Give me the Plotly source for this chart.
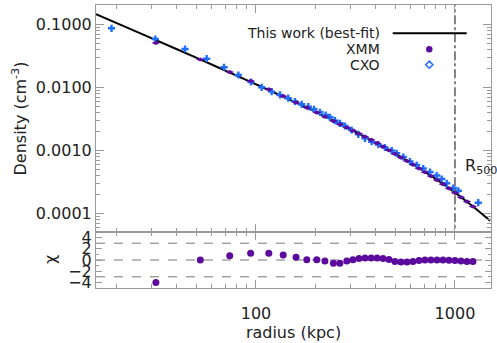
import plotly.graph_objects as go

# ---------------- data ----------------
fit_r = [15.7, 27.7, 52.4, 93.3, 122, 180, 264, 388, 571, 841, 1145, 1500]
fit_n = [0.1442, 0.0667, 0.02767, 0.01233, 0.00838, 0.00474, 0.002624,
         0.001390, 0.000690, 0.000315, 0.0001538, 0.0000764]

xmm_r = [31.4, 52.5, 73.8, 94.0, 116, 137, 159, 180, 202, 222, 245, 264, 286,
         307, 329, 353, 379, 406, 435, 466, 499, 535, 574, 615, 659, 706, 757,
         812, 870, 933, 1000, 1072, 1149, 1231]
xmm_n = [0.0505, 0.0276, 0.01742, 0.01259, 0.00929, 0.00723, 0.00575, 0.00474,
         0.00397, 0.003404, 0.002911, 0.002582, 0.002296, 0.002051, 0.001837,
         0.001641, 0.001466, 0.001297, 0.001140, 0.000998, 0.000877, 0.000767,
         0.000676, 0.000590, 0.000516, 0.000449, 0.000390, 0.000337, 0.000290,
         0.000248, 0.000211, 0.0001792, 0.0001534, 0.0001282]
xmm_chi = [-4.0, 0.0, 0.76, 1.2, 1.2, 0.9, 0.5, 0.05, 0.05, -0.2, -0.6, -0.6,
           -0.2, 0.05, 0.25, 0.35, 0.35, 0.35, 0.25, 0.1, -0.25, -0.35, -0.35,
           -0.25, -0.1, 0.0, 0.0, 0.0, 0.0, -0.05, -0.1, -0.2, -0.25, -0.25]

cxo_r = [18.8, 31.2, 44.0, 56.5, 69.1, 81.5, 94.4, 106.8, 119.9, 132.0, 145.3,
         157.0, 169.7, 183.2, 195.6, 209.7, 224.0, 235.4, 249.5, 264.3, 280.1,
         302.0, 326.7, 352.9, 381.4, 411.7, 444.8, 480.9, 509.3, 549.7, 594.1,
         642.0, 692.8, 748.8, 809.1, 857.5, 908.5, 980.6, 1039, 1309]
cxo_n = [0.0864, 0.0584, 0.0405, 0.02844, 0.02078, 0.01567, 0.01214, 0.0100,
         0.00852, 0.00755, 0.00671, 0.00595, 0.00537, 0.00492, 0.00448, 0.00401,
         0.003634, 0.003341, 0.002950, 0.002683, 0.002430, 0.002100, 0.001795,
         0.001550, 0.001369, 0.001236, 0.001108, 0.000986, 0.000896, 0.000783,
         0.000664, 0.000584, 0.000514, 0.000452, 0.000398, 0.000350, 0.000299,
         0.000252, 0.000228, 0.0001473]

r500 = 1000
chi_levels = [-3, 0, 3]
chi_line_r = [15.7, 1370]

dens_tickvals = [0.1, 0.01, 0.001, 0.0001]
dens_ticktext = ["0.1000", "0.0100", "0.0010", "0.0001"]
r_tickvals = [100, 1000]
r_ticktext = ["100", "1000"]
chi_tickvals = [4, 2, 0, -2, -4]
chi_ticktext = ["4", "2", "0", "\u22122", "\u22124"]

# ---------------- style ----------------
PURPLE = "#5c0a9e"
BLUE = "#1e6eff"
AX = "#9a9a9a"
TXT = "#222222"
FONT = "DejaVu Sans"

fig = go.Figure()

fig.add_trace(go.Scatter(x=fit_r, y=fit_n, mode="lines", line=dict(color="black", width=2, shape="spline"),
                         xaxis="x", yaxis="y", showlegend=False))
fig.add_trace(go.Scatter(x=cxo_r, y=cxo_n, mode="markers",
                         marker=dict(symbol="cross", size=6, color=BLUE, line=dict(width=0)),
                         xaxis="x", yaxis="y", showlegend=False))
fig.add_trace(go.Scatter(x=xmm_r, y=xmm_n, mode="markers",
                         marker=dict(symbol="diamond-wide", size=6, color=PURPLE, line=dict(width=0)),
                         xaxis="x", yaxis="y", showlegend=False))
fig.add_trace(go.Scatter(x=[r500, r500], y=[1e-5, 1], mode="lines",
                         line=dict(color="#444444", width=1.3, dash="dashdot"),
                         xaxis="x", yaxis="y", showlegend=False))

for lv in chi_levels:
    fig.add_trace(go.Scatter(x=chi_line_r, y=[lv, lv], mode="lines",
                             line=dict(color="#777777", width=1, dash="dash"),
                             xaxis="x2", yaxis="y2", showlegend=False))
fig.add_trace(go.Scatter(x=xmm_r, y=xmm_chi, mode="markers",
                         marker=dict(symbol="circle", size=7, color=PURPLE),
                         xaxis="x2", yaxis="y2", showlegend=False))

W, H = 497, 343
ml, mr, mt, mb = 96, 6, 5, 55
pw, ph = W - ml - mr, H - mt - mb
split = 56 / ph

def px(x):
    return (x - ml) / pw

def py(y):
    return (H - mb - y) / ph

common_x = dict(type="log", range=[1.196, 3.181], showline=True, linecolor=AX, linewidth=1,
                mirror="ticks", ticks="inside", ticklen=8, tickcolor=AX, showgrid=False,
                zeroline=False, automargin=False, tickfont=dict(family=FONT, size=16, color=TXT),
                minor=dict(ticks="inside", ticklen=4, tickcolor=AX, dtick="D1", showgrid=False))

fig.update_layout(
    width=W, height=H, margin=dict(l=ml, r=mr, t=mt, b=mb, autoexpand=False),
    paper_bgcolor="white", plot_bgcolor="white", showlegend=False,
    font=dict(family=FONT, size=16, color=TXT),
    xaxis=dict(common_x, anchor="y", domain=[0, 1], showticklabels=False, matches="x2",
               tickvals=r_tickvals),
    yaxis=dict(type="log", range=[-4.297, -0.694], domain=[split, 1], anchor="x",
               showline=True, linecolor=AX, linewidth=1, mirror="ticks", ticks="inside",
               ticklen=8, tickcolor=AX, showgrid=False, zeroline=False, automargin=False,
               tickvals=dens_tickvals, ticktext=dens_ticktext,
               tickfont=dict(family=FONT, size=16, color=TXT),
               minor=dict(ticks="inside", ticklen=4, tickcolor=AX, dtick="D1", showgrid=False),
               title=dict(text="Density (cm<sup>-3</sup>)", standoff=5,
                          font=dict(family=FONT, size=16, color=TXT))),
    xaxis2=dict(common_x, anchor="y2", domain=[0, 1], tickvals=r_tickvals, ticktext=r_ticktext,
                ticklabelstandoff=11,
                title=dict(text="radius (kpc)", standoff=0, font=dict(family=FONT, size=16, color=TXT))),
    yaxis2=dict(range=[-5, 5], domain=[0, split], anchor="x2", showline=True, linecolor=AX,
                linewidth=1, mirror="ticks", ticks="inside", ticklen=6, tickcolor=AX,
                showgrid=False, zeroline=False, automargin=False,
                tickvals=chi_tickvals, ticktext=chi_ticktext,
                tickfont=dict(family=FONT, size=16, color=TXT),
                minor=dict(ticks="inside", ticklen=3, tickcolor=AX, dtick=1, showgrid=False)),
)

# chi axis label
fig.add_annotation(xref="paper", yref="paper", x=px(50), y=py(260), text="\u03c7", textangle=-90,
                   showarrow=False, xanchor="center", yanchor="middle",
                   font=dict(family=FONT, size=16, color=TXT))

# legend drawn by hand (text left of symbol as in the reference)
leg_font = dict(family=FONT, size=14, color=TXT)
leg_rows = [("This work (best-fit)", 33.3), ("XMM", 49.3), ("CXO", 64.7)]
for txt, yy in leg_rows:
    fig.add_annotation(xref="paper", yref="paper", x=px(382), y=py(yy), text=txt,
                       showarrow=False, xanchor="right", yanchor="middle", font=leg_font)
fig.add_shape(type="line", xref="paper", yref="paper", x0=px(392.7), x1=px(466.7),
              y0=py(33.3), y1=py(33.3), line=dict(color="black", width=2))
cx, cy1, cy2, rr = 429.3, 49.3, 64.7, 3.2
fig.add_shape(type="circle", xref="paper", yref="paper", x0=px(cx - rr), x1=px(cx + rr),
              y0=py(cy1 + rr), y1=py(cy1 - rr), fillcolor=PURPLE, line=dict(color=PURPLE, width=0))
d = 3.6
fig.add_shape(type="path", xref="paper", yref="paper",
              path=f"M {px(cx-d)},{py(cy2)} L {px(cx)},{py(cy2-d)} L {px(cx+d)},{py(cy2)} L {px(cx)},{py(cy2+d)} Z",
              line=dict(color=BLUE, width=1.5), fillcolor="rgba(0,0,0,0)")

fig.add_annotation(xref="paper", yref="paper", x=px(463), y=py(166), text="R<sub>500</sub>",
                   showarrow=False, xanchor="left", yanchor="middle",
                   font=dict(family=FONT, size=16, color=TXT))

fig.write_html("out.html", config={"displayModeBar": False},
               post_script="document.body.style.margin='0px';")
